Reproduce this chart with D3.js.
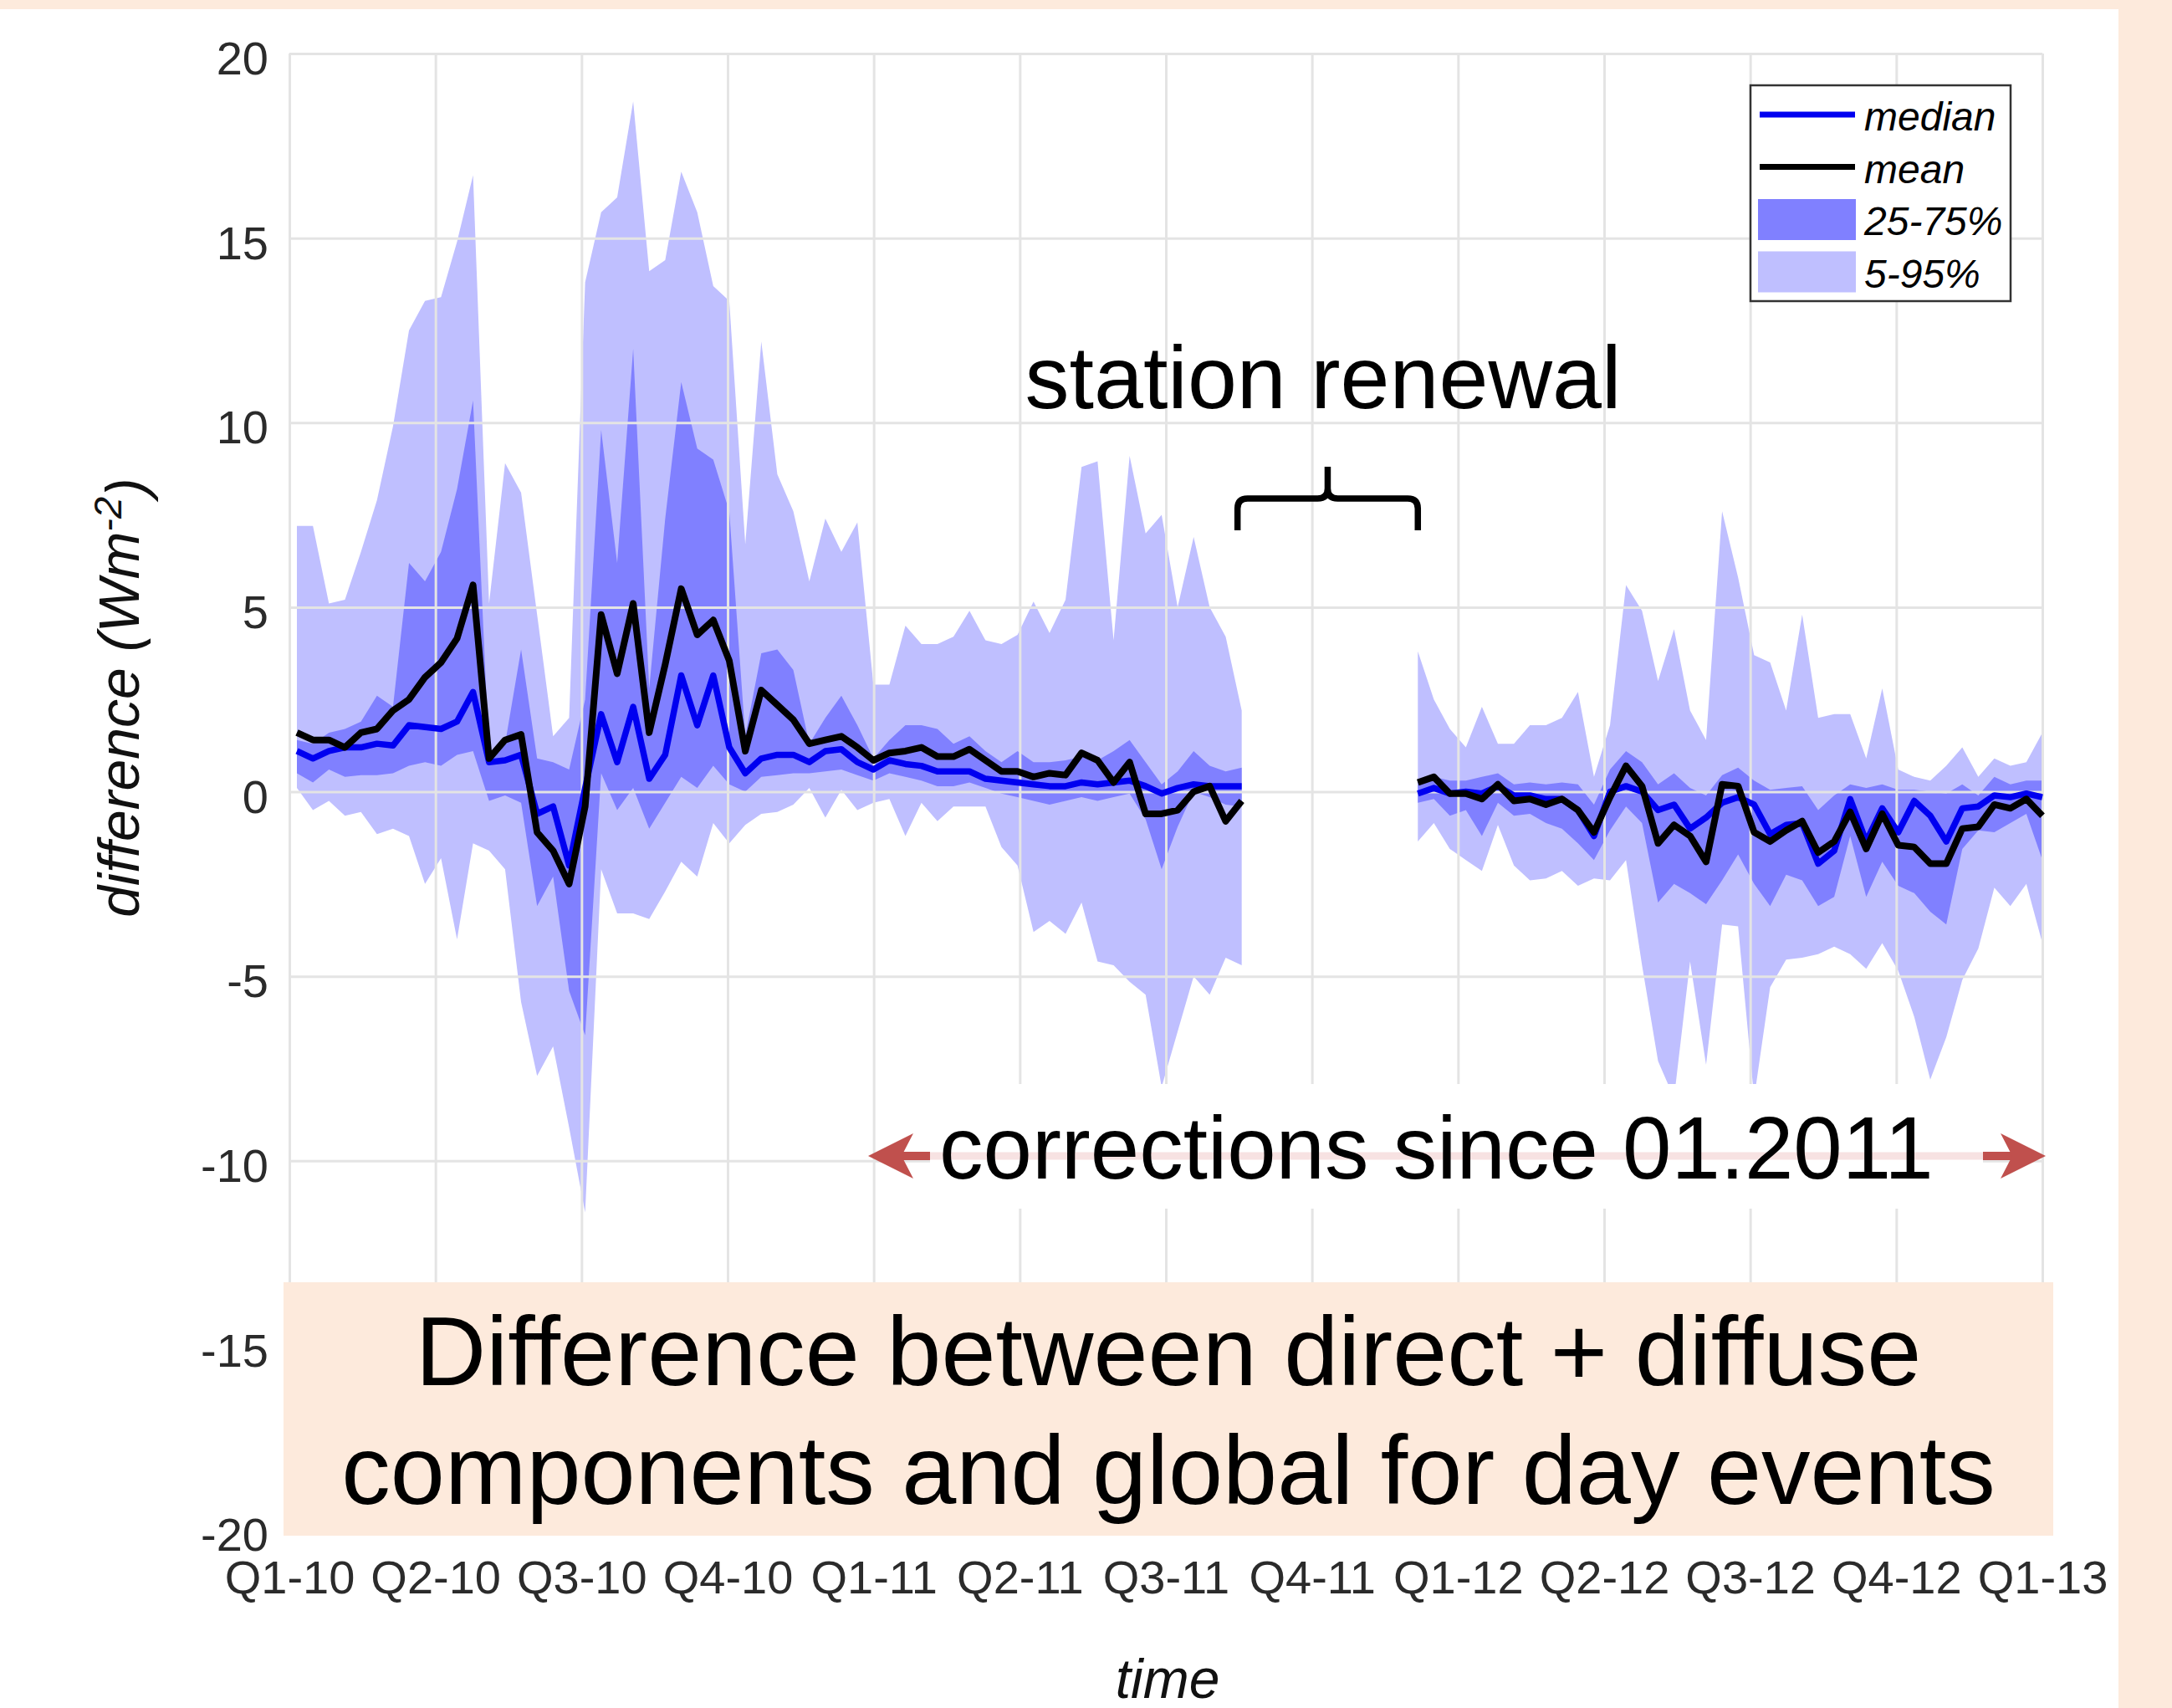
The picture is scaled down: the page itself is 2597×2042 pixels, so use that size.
<!DOCTYPE html>
<html>
<head>
<meta charset="utf-8">
<script src="https://cdn.jsdelivr.net/npm/d3@7/dist/d3.min.js"></script>
<style>
  body { margin: 0; background: #fdeadc; }
  svg { display: block; font-family: "Liberation Sans", Arial, Helvetica, sans-serif; }
</style>
</head>
<body>
<div class="chartdiv"></div>
<script>
/*
difference between direct + diffuse components and global, day events
*/

// tick labels
var quarters = ["Q1-10", "Q2-10", "Q3-10", "Q4-10", "Q1-11", "Q2-11", "Q3-11",
                "Q4-11", "Q1-12", "Q2-12", "Q3-12", "Q4-12", "Q1-13"];
var yTicks = [-20, -15, -10, -5, 0, 5, 10, 15, 20];

// the values, one per ~10 days, null during the station renewal
var n = null;
var p95 = [7.2, 7.2, 5.1, 5.2, 6.5, 7.9, 9.9, 12.5, 13.3, 13.4,
    14.9, 16.7, 5.1, 8.9, 8.1, 4.8, 1.5, 2.0, 13.8, 15.7,
    16.1, 18.7, 14.1, 14.4, 16.8, 15.7, 13.7, 13.3, 6.7, 12.2,
    8.6, 7.6, 5.7, 7.4, 6.5, 7.3, 2.9, 2.9, 4.5, 4.0,
    4.0, 4.2, 4.9, 4.1, 4.0, 4.25, 5.15, 4.3, 5.2, 8.8,
    8.95, 4.1, 9.1, 7.0, 7.5, 5.0, 6.9, 5.0, 4.2, 2.2,
    n, n, n, n, n, n, n, n, n, n,
    3.8, 2.5, 1.7, 1.2, 2.3, 1.3, 1.3, 1.8, 1.8, 2.0,
    2.7, 0.4, 1.8, 5.6, 4.9, 3.0, 4.4, 2.2, 1.4, 7.6,
    5.8, 3.7, 3.5, 2.2, 4.8, 2.0, 2.1, 2.1, 0.9, 2.8,
    0.6, 0.4, 0.3, 0.7, 1.2, 0.4, 0.9, 0.7, 0.8, 1.6];

var p75 = [1.4, 1.3, 1.6, 1.7, 1.9, 2.6, 2.3, 6.2, 5.7, 6.5,
    8.2, 10.6, 1.0, 1.3, 3.85, 0.9, 0.8, 0.6, 2.5, 9.8,
    6.2, 12.0, 2.8, 7.4, 11.1, 9.3, 9.0, 7.6, 1.5, 3.75,
    3.85, 3.3, 1.3, 2.0, 2.6, 1.8, 0.9, 1.4, 1.8, 1.8,
    1.7, 1.3, 1.5, 1.1, 0.8, 1.1, 0.8, 0.8, 0.85, 0.95,
    0.85, 1.1, 1.4, 0.8, 0.2, 0.55, 1.1, 0.7, 0.55, 0.65,
    n, n, n, n, n, n, n, n, n, n,
    0.3, 0.4, 0.3, 0.3, 0.4, 0.5, 0.2, 0.25, 0.2, 0.25,
    0.2, -0.35, 0.6, 1.1, 0.8, 0.2, 0.5, 0.1, -0.1, 0.45,
    0.65, 0.3, 0.05, 0.1, 0.15, -0.5, -0.1, 0.2, 0.1, 0.2,
    0.05, 0.05, 0.0, -0.05, 0.2, -0.1, 0.4, 0.2, 0.3, 0.3];

var median = [1.1, 0.9, 1.1, 1.2, 1.2, 1.3, 1.25, 1.8, 1.75, 1.7,
    1.9, 2.7, 0.8, 0.85, 1.0, -0.6, -0.4, -2.0, 0.1, 2.1,
    0.8, 2.3, 0.35, 1.0, 3.15, 1.8, 3.15, 1.2, 0.5, 0.9,
    1.0, 1.0, 0.8, 1.1, 1.15, 0.8, 0.6, 0.85, 0.75, 0.7,
    0.55, 0.55, 0.55, 0.35, 0.3, 0.25, 0.2, 0.15, 0.15, 0.25,
    0.2, 0.25, 0.3, 0.15, -0.05, 0.1, 0.2, 0.15, 0.15, 0.15,
    n, n, n, n, n, n, n, n, n, n,
    -0.05, 0.1, -0.05, 0.0, -0.05, 0.15, -0.1, -0.1, -0.2, -0.2,
    -0.5, -1.2, 0.0, 0.15, 0.0, -0.5, -0.35, -1.0, -0.7, -0.3,
    -0.15, -0.35, -1.15, -0.9, -0.85, -1.95, -1.6, -0.2, -1.35, -0.45,
    -1.1, -0.25, -0.65, -1.35, -0.45, -0.4, -0.1, -0.15, -0.05, -0.15];

var mean = [1.6, 1.4, 1.4, 1.2, 1.6, 1.7, 2.2, 2.5, 3.1, 3.5,
    4.15, 5.6, 0.9, 1.4, 1.55, -1.1, -1.6, -2.5, -0.4, 4.8,
    3.2, 5.1, 1.6, 3.45, 5.5, 4.25, 4.65, 3.55, 1.1, 2.75,
    2.35, 1.95, 1.3, 1.4, 1.5, 1.2, 0.85, 1.05, 1.1, 1.2,
    0.95, 0.95, 1.15, 0.85, 0.55, 0.55, 0.4, 0.5, 0.45, 1.05,
    0.85, 0.25, 0.8, -0.6, -0.6, -0.5, 0.0, 0.15, -0.8, -0.25,
    n, n, n, n, n, n, n, n, n, n,
    0.25, 0.4, -0.05, -0.05, -0.2, 0.2, -0.25, -0.2, -0.35, -0.2,
    -0.5, -1.1, -0.15, 0.7, 0.15, -1.4, -0.9, -1.2, -1.9, 0.2,
    0.15, -1.1, -1.35, -1.05, -0.8, -1.65, -1.35, -0.55, -1.55, -0.6,
    -1.45, -1.5, -1.95, -1.95, -1.0, -0.95, -0.35, -0.45, -0.2, -0.65];

var p25 = [0.5, 0.25, 0.6, 0.4, 0.45, 0.45, 0.5, 0.7, 0.8, 0.7,
    1.0, 1.1, -0.25, -0.1, -0.3, -3.1, -2.3, -5.4, -6.6, 0.5,
    -0.5, 0.1, -1.0, -0.3, 0.4, 0.1, 0.7, 0.2, 0.0, 0.4,
    0.45, 0.5, 0.5, 0.55, 0.6, 0.45, 0.3, 0.5, 0.4, 0.3,
    0.15, 0.15, 0.25, 0.1, -0.05, -0.15, -0.25, -0.35, -0.25, -0.15,
    -0.25, -0.15, -0.05, -0.75, -2.1, -0.95, 0.0, -0.15, -0.35, -0.4,
    n, n, n, n, n, n, n, n, n, n,
    -0.3, -0.2, -0.65, -0.5, -1.2, -0.3, -0.65, -0.6, -0.85, -1.0,
    -1.4, -1.85, -1.05, -0.4, -0.85, -3.0, -2.5, -2.75, -3.05, -2.4,
    -1.7, -2.5, -3.1, -2.25, -2.4, -3.1, -2.85, -1.2, -2.85, -1.9,
    -2.55, -2.75, -3.25, -3.6, -1.55, -1.05, -1.1, -0.85, -0.6, -1.85];

var p5 = [0.1, -0.5, -0.25, -0.65, -0.55, -1.15, -1.0, -1.2, -2.5, -1.8,
    -4.0, -1.4, -1.6, -2.1, -5.7, -7.7, -6.9, -9.1, -11.4, -2.1,
    -3.3, -3.3, -3.45, -2.7, -1.9, -2.3, -0.85, -1.4, -0.9, -0.6,
    -0.55, -0.35, 0.1, -0.7, 0.05, -0.5, -0.3, -0.2, -1.2, -0.3,
    -0.8, -0.4, -0.4, -0.4, -1.5, -2.0, -3.8, -3.5, -3.85, -3.0,
    -4.6, -4.7, -5.15, -5.5, -8.0, -6.5, -5.0, -5.5, -4.5, -4.7,
    n, n, n, n, n, n, n, n, n, n,
    -1.35, -0.85, -1.55, -1.85, -2.15, -0.9, -2.0, -2.4, -2.35, -2.15,
    -2.55, -2.35, -2.4, -1.85, -4.7, -7.3, -8.3, -4.6, -7.4, -3.6,
    -3.65, -8.3, -5.3, -4.55, -4.5, -4.4, -4.2, -4.4, -4.8, -4.1,
    -4.85, -6.1, -7.8, -6.65, -5.1, -4.25, -2.6, -3.1, -2.5, -4.1];

// colours
var lightBlue = "#bfbfff";
var darkBlue = "#8080ff";
var medianBlue = "#0000f0";
var gridColor = "#e4e4e4";
var peach = "#fdeadc";
var arrowRed = "#c0504d";

// page and plot box
var W = 2597, H = 2042;
var plot = {left: 346, right: 2442, top: 64, bottom: 1829};

// scales
var xq = d3.scaleLinear().domain([0, quarters.length - 1]).range([plot.left, plot.right]);
var xi = d3.scaleLinear().domain([0, p95.length - 1]).range([plot.left + 9, plot.right]);
var y = d3.scaleLinear().domain([-20, 20]).range([plot.bottom, plot.top]);

var svg = d3.select(".chartdiv")
    .append("svg")
    .attr("width", W)
    .attr("height", H);

// peach frame with the white panel
svg.append("rect").attr("width", W).attr("height", H).attr("fill", peach);
svg.append("rect").attr("x", 0).attr("y", 11).attr("width", 2533).attr("height", H - 11).attr("fill", "#fff");

var rows = d3.range(p95.length).map(function(i) {
    return {i: i, p5: p5[i], p25: p25[i], med: median[i], mean: mean[i], p75: p75[i], p95: p95[i]};
});

// bands
var outer = d3.area()
    .defined(function(d) { return d.p95 !== null; })
    .x(function(d) { return xi(d.i); })
    .y0(function(d) { return y(d.p5); })
    .y1(function(d) { return y(d.p95); });

var inner = d3.area()
    .defined(function(d) { return d.p75 !== null; })
    .x(function(d) { return xi(d.i); })
    .y0(function(d) { return y(d.p25); })
    .y1(function(d) { return y(d.p75); });

svg.append("path").datum(rows).attr("d", outer).attr("fill", lightBlue);
svg.append("path").datum(rows).attr("d", inner).attr("fill", darkBlue);

// grid lines on top of the bands
var gridY = svg.append("g")
    .attr("transform", "translate(" + plot.left + ",0)")
    .call(d3.axisLeft(y).tickValues(yTicks).tickSize(-(plot.right - plot.left)).tickFormat(""));
var gridX = svg.append("g")
    .attr("transform", "translate(0," + plot.bottom + ")")
    .call(d3.axisBottom(xq).ticks(12).tickSize(-(plot.bottom - plot.top)).tickFormat(""));
[gridY, gridX].forEach(function(g) {
    g.select(".domain").remove();
    g.selectAll("line").attr("stroke", gridColor).attr("stroke-width", 3);
});

// median and mean
function lineOf(key) {
    return d3.line()
        .defined(function(d) { return d[key] !== null; })
        .x(function(d) { return xi(d.i); })
        .y(function(d) { return y(d[key]); });
}
svg.append("path").datum(rows).attr("d", lineOf("med"))
    .attr("fill", "none").attr("stroke", medianBlue).attr("stroke-width", 7.5).attr("stroke-linejoin", "round");
svg.append("path").datum(rows).attr("d", lineOf("mean"))
    .attr("fill", "none").attr("stroke", "#000").attr("stroke-width", 8).attr("stroke-linejoin", "round");

// "corrections since 01.2011" with its double arrow
var ay = 1382;
svg.append("rect").attr("x", 1112).attr("y", 1296).attr("width", 2371 - 1112).attr("height", 149).attr("fill", "#fff");
svg.append("line").attr("x1", 1112).attr("x2", 2371).attr("y1", ay).attr("y2", ay)
    .attr("stroke", "#f7e2e2").attr("stroke-width", 9);
svg.append("line").attr("x1", 1075).attr("x2", 1112).attr("y1", ay).attr("y2", ay)
    .attr("stroke", arrowRed).attr("stroke-width", 10);
svg.append("line").attr("x1", 2371).attr("x2", 2408).attr("y1", ay).attr("y2", ay)
    .attr("stroke", arrowRed).attr("stroke-width", 10);
svg.append("path")
    .attr("d", "M1038," + ay + " L1092," + (ay - 27) + " L1078," + ay + " L1092," + (ay + 27) + " Z")
    .attr("fill", arrowRed);
svg.append("path")
    .attr("d", "M2446," + ay + " L2392," + (ay - 27) + " L2406," + ay + " L2392," + (ay + 27) + " Z")
    .attr("fill", arrowRed);
svg.append("text").attr("x", 1123).attr("y", 1409)
    .style("font-size", "105px").attr("fill", "#000")
    .text("corrections since 01.2011");

// title box over the lower part of the plot
svg.append("rect").attr("x", 339).attr("y", 1533).attr("width", 2455 - 339).attr("height", 1836 - 1533).attr("fill", peach);
svg.append("text").attr("x", 1397).attr("y", 1656).attr("text-anchor", "middle")
    .style("font-size", "117px").text("Difference between direct + diffuse");
svg.append("text").attr("x", 1397).attr("y", 1798).attr("text-anchor", "middle")
    .style("font-size", "117px").text("components and global for day events");

// station renewal and its brace over the gap
svg.append("text").attr("x", 1582).attr("y", 488).attr("text-anchor", "middle")
    .style("font-size", "106px").text("station renewal");
var bx0 = xi(59) - 5, bx1 = xi(70), bm = (bx0 + bx1) / 2;
var yb = 634, yh = 596, yt = 558, r = 12;
svg.append("path")
    .attr("d", "M" + bx0 + "," + yb + " L" + bx0 + "," + (yh + r) + " Q" + bx0 + "," + yh + " " + (bx0 + r) + "," + yh +
        " L" + (bm - r) + "," + yh + " Q" + bm + "," + yh + " " + bm + "," + (yh - r) + " L" + bm + "," + yt +
        " M" + bm + "," + (yh - r) + " Q" + bm + "," + yh + " " + (bm + r) + "," + yh +
        " L" + (bx1 - r) + "," + yh + " Q" + bx1 + "," + yh + " " + bx1 + "," + (yh + r) + " L" + bx1 + "," + yb)
    .attr("fill", "none").attr("stroke", "#000").attr("stroke-width", 7.5);

// axes (labels only)
var yAxis = svg.append("g")
    .attr("transform", "translate(" + plot.left + ",0)")
    .call(d3.axisLeft(y).tickValues(yTicks).tickSize(0).tickPadding(25)
        .tickFormat(function(d) { return String(d); }));
var xAxis = svg.append("g")
    .attr("transform", "translate(0," + plot.bottom + ")")
    .call(d3.axisBottom(xq).ticks(12).tickSize(0).tickPadding(36)
        .tickFormat(function(d, i) { return quarters[i]; }));
[yAxis, xAxis].forEach(function(g) {
    g.select(".domain").remove();
    g.selectAll("text")
        .style("font-size", "56px")
        .style("font-family", "'Liberation Sans', Arial, Helvetica, sans-serif")
        .attr("fill", "#2b2b2b");
});
yAxis.selectAll("text").attr("dy", "0.44em");

// axis titles
svg.append("text").attr("x", 1396).attr("y", 2030).attr("text-anchor", "middle")
    .style("font-size", "66px").style("font-style", "italic").attr("fill", "#111")
    .text("time");
var ylab = svg.append("text")
    .attr("transform", "translate(166,834) rotate(-90)")
    .attr("text-anchor", "middle")
    .style("font-size", "68px").style("font-style", "italic").attr("fill", "#111");
ylab.append("tspan").text("difference (Wm");
ylab.append("tspan").attr("dy", "-0.45em").style("font-size", "47px").text("-2");
ylab.append("tspan").attr("dy", "0.45em").text(")");

// legend
var lg = svg.append("g");
lg.append("rect").attr("x", 2093).attr("y", 102).attr("width", 311).attr("height", 258)
    .attr("fill", "#fff").attr("stroke", "#333").attr("stroke-width", 2.5);
var legendItems = [
    {label: "median", kind: "line", color: medianBlue},
    {label: "mean", kind: "line", color: "#000"},
    {label: "25-75%", kind: "box", color: darkBlue},
    {label: "5-95%", kind: "box", color: lightBlue}
];
legendItems.forEach(function(d, k) {
    var cy = 137 + k * 62.5;
    if (d.kind === "line") {
        lg.append("line").attr("x1", 2104).attr("x2", 2218).attr("y1", cy).attr("y2", cy)
            .attr("stroke", d.color).attr("stroke-width", 7);
    } else {
        lg.append("rect").attr("x", 2102).attr("y", cy - 24).attr("width", 117).attr("height", 49)
            .attr("fill", d.color);
    }
    lg.append("text").attr("x", 2229).attr("y", cy + 19)
        .style("font-size", "48px").style("font-style", "italic")
        .text(d.label);
});
</script>
</body>
</html>
